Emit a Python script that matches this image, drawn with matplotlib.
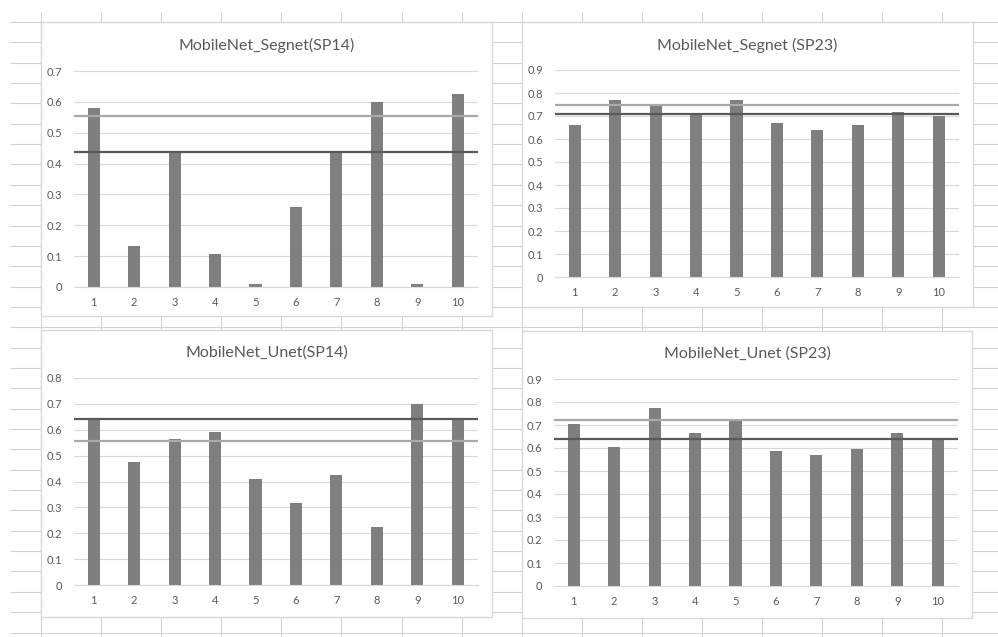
import matplotlib.pyplot as plt
from matplotlib.patches import Rectangle
from matplotlib.ticker import FuncFormatter
import numpy as np

plt.rcParams['font.family'] = ['Lato', 'DejaVu Sans']

# datos
categorias = list(range(1, 11))

titulo_seg14 = 'MobileNet_Segnet(SP14)'
seg14 = [0.579, 0.132, 0.438, 0.106, 0.010, 0.259, 0.438, 0.598, 0.010, 0.627]
seg14_claro = 0.555
seg14_oscuro = 0.436

titulo_seg23 = 'MobileNet_Segnet (SP23)'
seg23 = [0.659, 0.768, 0.746, 0.708, 0.768, 0.668, 0.637, 0.659, 0.716, 0.698]
seg23_claro = 0.746
seg23_oscuro = 0.707

titulo_unet14 = 'MobileNet_Unet(SP14)'
unet14 = [0.641, 0.477, 0.565, 0.590, 0.408, 0.315, 0.427, 0.223, 0.698, 0.646]
unet14_claro = 0.557
unet14_oscuro = 0.640

titulo_unet23 = 'MobileNet_Unet (SP23)'
unet23 = [0.705, 0.605, 0.775, 0.666, 0.718, 0.588, 0.570, 0.596, 0.666, 0.643]
unet23_claro = 0.723
unet23_oscuro = 0.641

W, H = 998, 637
fig = plt.figure(figsize=(W / 100, H / 100), dpi=100)

# fondo tipo hoja de calculo
fondo = fig.add_axes([0, 0, 1, 1])
fondo.set_xlim(0, W)
fondo.set_ylim(H, 0)
fondo.axis('off')
filas = 22 + 20.35 * np.arange(0, 31)
columnas = 41 + 60.1 * np.arange(0, 16)
fondo.hlines(filas, 10, W, color='#d2d2d2', lw=0.8, zorder=1)
fondo.vlines(columnas, 12, H, color='#d2d2d2', lw=0.8, zorder=1)

def px(x0, y0, x1, y1):
    return [x0 / W, 1 - y1 / H, (x1 - x0) / W, (y1 - y0) / H]

def dibujar_grafico(marco, area, titulo, valores, claro, oscuro, ymax):
    x0, y0, x1, y1 = marco
    fondo.add_patch(Rectangle((x0, y0), x1 - x0, y1 - y0, facecolor='white',
                              edgecolor='#d9d9d9', lw=1, zorder=2))
    fondo.text((x0 + x1) / 2, y0 + 23, titulo, ha='center', va='center',
               fontsize=11.5, color='#595959', zorder=3)
    ax = fig.add_axes(px(*area))
    ax.set_facecolor('none')
    ax.bar(categorias, valores, width=0.3, color='#7f7f7f', zorder=2)
    ax.axhline(claro, color='#a9a9a9', lw=1.6, zorder=3)
    ax.axhline(oscuro, color='#595959', lw=1.6, zorder=3)
    ax.set_xlim(0.5, 10.5)
    ax.set_ylim(0, ymax)
    ax.set_xticks(categorias)
    ax.set_yticks(np.arange(0, ymax + 0.001, 0.1))
    ax.yaxis.set_major_formatter(FuncFormatter(lambda v, _: f'{v:.1f}' if v > 0.001 else '0'))
    ax.grid(axis='y', color='#d9d9d9', lw=0.8, zorder=0)
    ax.set_axisbelow(True)
    for s in ['top', 'right', 'left']:
        ax.spines[s].set_visible(False)
    ax.spines['bottom'].set_color('#d9d9d9')
    ax.tick_params(length=0, labelsize=8, labelcolor='#595959')
    ax.tick_params(axis='x', pad=7)
    ax.tick_params(axis='y', pad=8)
    return ax

dibujar_grafico((41, 22, 492, 316), (73.5, 71, 477.9, 287),
                titulo_seg14, seg14, seg14_claro, seg14_oscuro, 0.7)
dibujar_grafico((522, 22, 973, 307), (554.5, 70, 958.9, 277),
                titulo_seg23, seg23, seg23_claro, seg23_oscuro, 0.9)
dibujar_grafico((41, 330, 492, 617), (73.5, 378, 477.9, 585),
                titulo_unet14, unet14, unet14_claro, unet14_oscuro, 0.8)
dibujar_grafico((522, 331, 972, 618), (553.5, 379, 957.9, 586),
                titulo_unet23, unet23, unet23_claro, unet23_oscuro, 0.9)

fig.savefig('out.png', dpi=100)
